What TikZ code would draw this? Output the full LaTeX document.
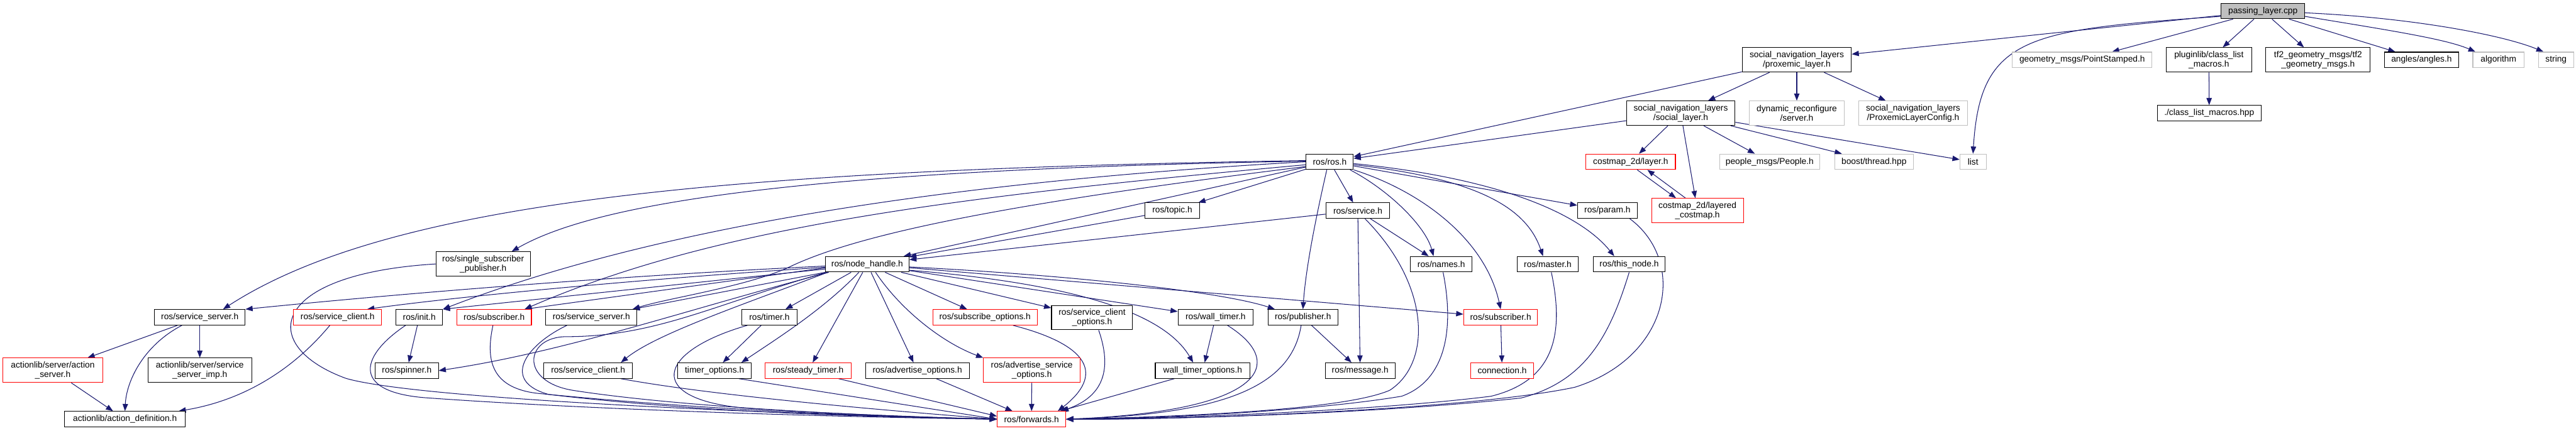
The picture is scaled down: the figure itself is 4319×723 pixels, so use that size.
\documentclass[tikz,border=0pt]{standalone}
\usepackage{fontspec}
\setmainfont{Liberation Sans}
\usetikzlibrary{arrows.meta}
\definecolor{edgec}{HTML}{191970}
\definecolor{extc}{HTML}{BFBFBF}
\definecolor{mainfill}{HTML}{BFBFBF}
\newcommand{\fsz}{\fontsize{14.5}{15.5}\selectfont}
\pgfdeclarelayer{background}
\pgfsetlayers{background,main}
\begin{document}
\begin{tikzpicture}[x=1pt,y=-1pt,
 nb/.style={draw=black,fill=white,line width=1.1pt,inner sep=0pt,align=center,font=\fsz,minimum height=26},
 nr/.style={nb,draw=red},
 ng/.style={nb,draw=extc},
 nm/.style={nb,fill=mainfill},
 two/.style={minimum height=41},
 edg/.style={draw=edgec,line width=1.1pt,-{Triangle[length=12pt,width=9pt]}},
]
\useasboundingbox (0,0) rectangle (4319,723);
% ---------- nodes ----------
\node[nm,minimum width=140] (P) at (3794,18.5) {passing\_layer.cpp};
\node[nb,two,minimum width=183] (prox) at (3012.5,100.5) {social\_navigation\_layers\\/proxemic\_layer.h};
\node[ng,minimum width=234] (pts) at (3491,100.5) {geometry\_msgs/PointStamped.h};
\node[nb,two,minimum width=143] (plug) at (3703.5,100.5) {pluginlib/class\_list\\\_macros.h};
\node[nb,two,minimum width=175] (tf2) at (3886.5,100.5) {tf2\_geometry\_msgs/tf2\\\_geometry\_msgs.h};
\node[nb,minimum width=124] (ang) at (4060,100.5) {angles/angles.h};
\node[ng,minimum width=86] (alg) at (4189,100.5) {algorithm};
\node[ng,minimum width=59] (str) at (4285.5,100.5) {string};
\node[nb,minimum width=174] (clm) at (3704,190) {./class\_list\_macros.hpp};
\node[nb,two,minimum width=182] (soc) at (2818,190) {social\_navigation\_layers\\/social\_layer.h};
\node[ng,two,minimum width=159] (dyn) at (3012.5,190) {dynamic\_reconfigure\\/server.h};
\node[ng,two,minimum width=183] (pcfg) at (3207.5,190) {social\_navigation\_layers\\/ProxemicLayerConfig.h};
\node[nb,minimum width=79] (ros) at (2229.5,271.5) {ros/ros.h};
\node[nr,minimum width=150] (layer) at (2734,271.5) {costmap\_2d/layer.h};
\node[ng,minimum width=168] (ppl) at (2967,271.5) {people\_msgs/People.h};
\node[ng,minimum width=132] (bth) at (3142,271.5) {boost/thread.hpp};
\node[ng,minimum width=44] (list) at (3308,271.5) {list};
\node[nb,minimum width=91] (topic) at (1965.5,353.5) {ros/topic.h};
\node[nb,minimum width=107] (srv) at (2276.5,353.5) {ros/service.h};
\node[nb,minimum width=100] (param) at (2695,353.5) {ros/param.h};
\node[nr,two,minimum width=154] (lcm) at (2846,353.5) {costmap\_2d/layered\\\_costmap.h};
\node[nb,two,minimum width=158] (ssp) at (810,443) {ros/single\_subscriber\\\_publisher.h};
\node[nb,minimum width=140] (nh) at (1454,443.5) {ros/node\_handle.h};
\node[nb,minimum width=103] (names) at (2416.5,443.5) {ros/names.h};
\node[nb,minimum width=102] (master) at (2595,443.5) {ros/master.h};
\node[nb,minimum width=121] (thisn) at (2731.5,443.5) {ros/this\_node.h};
\node[nb,minimum width=152] (ssA) at (335,532.5) {ros/service\_server.h};
\node[nr,minimum width=148] (scA) at (566,532.5) {ros/service\_client.h};
\node[nb,minimum width=78] (init) at (703,532.5) {ros/init.h};
\node[nr,minimum width=125] (subA) at (828.5,532.5) {ros/subscriber.h};
\node[nb,minimum width=153] (ssB) at (991.5,532.5) {ros/service\_server.h};
\node[nb,minimum width=92] (timer) at (1290,532.5) {ros/timer.h};
\node[nr,minimum width=175] (subo) at (1651.5,532.5) {ros/subscribe\_options.h};
\node[nb,two,minimum width=136] (sco) at (1831,533) {ros/service\_client\\\_options.h};
\node[nb,minimum width=126] (wt) at (2038,532.5) {ros/wall\_timer.h};
\node[nb,minimum width=117] (pub) at (2184.5,532.5) {ros/publisher.h};
\node[nr,minimum width=124] (subB) at (2516,532.5) {ros/subscriber.h};
\node[nr,two,minimum width=167] (as) at (88.5,621.5) {actionlib/server/action\\\_server.h};
\node[nb,two,minimum width=174] (ssi) at (335,621.5) {actionlib/server/service\\\_server\_imp.h};
\node[nb,minimum width=106] (spin) at (682,622) {ros/spinner.h};
\node[nb,minimum width=148] (scB) at (986,622) {ros/service\_client.h};
\node[nb,minimum width=124] (tmo) at (1198,622) {timer\_options.h};
\node[nr,minimum width=144] (st) at (1355,622) {ros/steady\_timer.h};
\node[nb,minimum width=174] (ao) at (1538,622) {ros/advertise\_options.h};
\node[nr,two,minimum width=162] (aso) at (1730,621.5) {ros/advertise\_service\\\_options.h};
\node[nb,minimum width=159] (wto) at (2016.5,622) {wall\_timer\_options.h};
\node[nb,minimum width=117] (msg) at (2280.5,622) {ros/message.h};
\node[nr,minimum width=105] (conn) at (2518.5,622) {connection.h};
\node[nb,minimum width=203] (ad) at (209.5,703.5) {actionlib/action\_definition.h};
\node[nr,minimum width=115] (fw) at (1729.5,703.5) {ros/forwards.h};
% ---------- edges ----------
\begin{pgfonlayer}{background}
\fill[white] (0,0) rectangle (4319,723);
% passing_layer.cpp
\draw[edg] (P) -- (prox);
\draw[edg] ([yshift=-9pt]P.west) .. controls (3400,50) and (3320,60) .. (list.north);
\draw[edg] (P) -- (pts);
\draw[edg] (P) -- (plug);
\draw[edg] (P) -- (tf2);
\draw[edg] (P) -- (ang);
\draw[edg] ([yshift=-9pt]P.east) .. controls (4000,50) and (4100,65) .. ([xshift=5pt]alg.north west);
\draw[edg] ([yshift=-3pt]P.east) .. controls (4050,30) and (4200,60) .. ([xshift=9pt]str.north west);
\draw[edg] (plug) -- (clm);
% proxemic_layer.h
\draw[edg] (prox) -- (ros);
\draw[edg] (prox) -- (soc);
\draw[edg] (prox) -- (dyn);
\draw[edg] (prox) -- (pcfg);
% social_layer.h
\draw[edg] (soc) -- (ros);
\draw[edg] (soc) -- (layer);
\draw[edg] (soc) -- (lcm);
\draw[edg] (soc) -- (ppl);
\draw[edg] (soc) -- (bth);
\draw[edg] (soc) -- (list);
% layer <-> layered_costmap
\draw[edg] ([xshift=11pt]layer.south) -- ([xshift=-36pt]lcm.north);
\draw[edg] ([xshift=-20pt]lcm.north) -- ([xshift=28pt]layer.south);
% ros/ros.h
\draw[edg] (ros) -- (topic);
\draw[edg] (ros) -- (srv);
\draw[edg] (ros) -- (param);
\draw[edg] ([xshift=-5pt]ros.south) .. controls (2212,340) and (2190,440) .. (pub.north);
\draw[edg] ([xshift=-6pt]ros.south east) .. controls (2330,320) and (2390,380) .. ([xshift=-13pt]names.north);
\draw[edg] (ros.south east) .. controls (2380,320) and (2490,400) .. (subB.north);
\draw[edg] ([yshift=-5pt]ros.east) .. controls (2480,300) and (2560,350) .. ([xshift=-8pt]master.north);
\draw[edg] ([yshift=-3pt]ros.east) .. controls (2520,300) and (2650,360) .. ([xshift=-25pt]thisn.north);
\draw[edg] (ros) -- (nh);
\draw[edg] (ros.west) .. controls (1500,310) and (1050,400) .. (init.north east);
\draw[edg] ([yshift=1pt]ros.west) .. controls (1350,285) and (1000,340) .. ([xshift=48pt]ssp.north);
\draw[edg] ([yshift=2pt]ros.west) .. controls (1200,285) and (650,340) .. ([xshift=39pt]ssA.north);
\draw[edg] ([yshift=-8pt]ros.west) .. controls (1700,340) and (1450,390) .. (1330,445) .. controls (1260,480) and (1120,500) .. ([xshift=-8pt]ssB.north east);
\draw[edg] ([yshift=-5pt]ros.west) .. controls (1600,330) and (1200,380) .. ([xshift=-12pt]subA.north east);
% ros/node_handle.h -- left side
\draw[edg] ([yshift=-3pt]nh.west) .. controls (1000,465) and (650,495) .. (ssA.north east);
\draw[edg] ([yshift=-5pt]nh.west) .. controls (1050,470) and (750,500) .. ([xshift=-25pt]scA.north east);
\draw[edg] ([yshift=-8pt]nh.west) -- (init.north east);
\draw[edg] ([yshift=-6pt]nh.west) -- ([xshift=-12pt]subA.north east);
\draw[edg] (nh.south west) -- ([xshift=-8pt]ssB.north east);
\draw[edg] ([xshift=6pt]nh.south west) .. controls (1150,520) and (950,590) .. (spin.east);
\draw[edg] ([xshift=2pt]nh.south west) .. controls (1200,510) and (1100,565) .. (950,565) .. controls (880,565) and (870,640) .. (960,655) .. controls (1150,685) and (1500,700) .. (fw.west);
\draw[edg] ([xshift=4pt]nh.south west) .. controls (1250,510) and (1100,560) .. ([xshift=55pt]scB.north);
\draw[edg] ([xshift=-27pt]nh.south) -- ([xshift=27pt]timer.north);
\draw[edg] ([xshift=-14pt]nh.south) .. controls (1380,520) and (1300,570) .. ([xshift=45pt]tmo.north);
\draw[edg] (nh) -- (st);
% ros/node_handle.h -- right side
\draw[edg] (nh) -- (ao);
\draw[edg] ([xshift=14pt]nh.south) .. controls (1510,520) and (1580,575) .. (aso.north west);
\draw[edg] (nh) -- (subo);
\draw[edg] (nh) -- (sco);
\draw[edg] (nh) -- (wt);
\draw[edg] ([yshift=-4.5pt]nh.east) .. controls (1800,462) and (2050,490) .. ([xshift=12pt]pub.north west);
\draw[edg] (nh) -- (subB);
\draw[edg] ([yshift=-10pt]nh.east) .. controls (1850,480) and (1960,540) .. ([xshift=-16pt]wto.north);
% ros/timer.h
\draw[edg] (timer) -- (tmo);
\draw[edg] ([xshift=-37pt]timer.south) .. controls (1100,590) and (1080,670) .. (1250,685) .. controls (1400,695) and (1550,700) .. (fw.west);
% into forwards.h from the left
\draw[edg] ([xshift=41pt]tmo.south) -- (fw.west);
\draw[edg] ([xshift=51pt]st.south) -- ([yshift=5pt]fw.west);
\draw[edg] ([xshift=55pt]scB.south) .. controls (1200,665) and (1500,690) .. (fw.west);
\draw[edg] ([xshift=-2pt]subA.south) .. controls (815,600) and (820,650) .. (900,660) .. controls (1200,690) and (1500,700) .. (fw.west);
\draw[edg] ([xshift=-41pt]ssB.south) .. controls (880,580) and (840,640) .. (920,662) .. controls (1200,695) and (1500,700) .. (fw.west);
\draw[edg] (ssp.west) .. controls (450,460) and (430,580) .. (580,635) .. controls (700,670) and (1300,695) .. (fw.west);
\draw[edg] ([xshift=-23pt]init.south) .. controls (600,600) and (590,660) .. (720,668) .. controls (1000,688) and (1400,700) .. (fw.west);
\draw[edg] (init) -- (spin);
% actionlib
\draw[edg] (ssA) -- (as);
\draw[edg] (ssA) -- (ssi);
\draw[edg] ([xshift=-30pt]ssA.south) .. controls (240,580) and (212,640) .. (ad.north);
\draw[edg] (as) -- (ad);
\draw[edg] ([xshift=-13pt]scA.south) .. controls (500,610) and (420,670) .. ([xshift=-12pt]ad.north east);
% right part
\draw[edg] (srv) -- (nh);
\draw[edg] (topic) -- (nh);
\draw[edg] (srv) -- (msg);
\draw[edg] (srv) -- (names);
\draw[edg] ([xshift=12pt]srv.south) .. controls (2400,480) and (2400,610) .. (2330,655) .. controls (2250,690) and (1950,700) .. (fw.east);
\draw[edg] ([xshift=3pt]names.south) .. controls (2440,560) and (2420,640) .. (2350,665) .. controls (2200,690) and (1950,702) .. (fw.east);
\draw[edg] ([xshift=6pt]master.south) .. controls (2625,570) and (2600,640) .. (2500,665) .. controls (2300,690) and (1950,703) .. (fw.east);
\draw[edg] (thisn.south) .. controls (2700,560) and (2660,640) .. (2550,668) .. controls (2300,695) and (1950,704) .. (fw.east);
\draw[edg] ([xshift=-13pt]param.south east) .. controls (2830,440) and (2800,600) .. (2640,650) .. controls (2450,690) and (1950,705) .. (fw.east);
\draw[edg] ([xshift=-3pt]pub.south) .. controls (2165,650) and (2050,695) .. (fw.east);
\draw[edg] (pub) -- (msg);
\draw[edg] (wt) -- (wto);
\draw[edg] ([xshift=20pt]wt.south) .. controls (2160,610) and (2120,690) .. (fw.east);
\draw[edg] (wto) -- (fw);
\draw[edg] ([xshift=11pt]sco.south) .. controls (1865,620) and (1850,665) .. ([xshift=-8pt]fw.north east);
\draw[edg] ([xshift=47pt]subo.south) .. controls (1830,580) and (1850,630) .. ([xshift=-14pt]fw.north east);
\draw[edg] (aso) -- (fw);
\draw[edg] (ao) -- (fw);
\draw[edg] (subB) -- (conn);
\end{pgfonlayer}
\end{tikzpicture}
\end{document}
